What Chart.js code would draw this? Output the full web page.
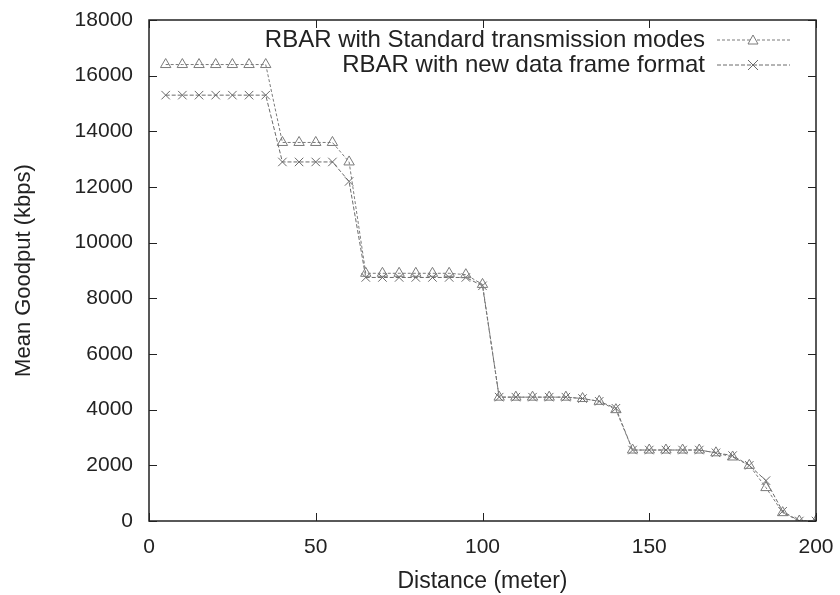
<!DOCTYPE html>
<html>
<head>
<meta charset="utf-8">
<script src="https://cdn.jsdelivr.net/npm/chart.js@4/dist/chart.umd.min.js"></script>
<style>
  html, body { margin: 0; padding: 0; background: #fff }
  #wrap { width: 840px; height: 595px }
</style>
</head>
<body>
<div id="wrap"><canvas id="c" width="840" height="595"></canvas></div>
<script>
const distances = [5, 10, 15, 20, 25, 30, 35, 40, 45, 50, 55, 60, 65, 70, 75, 80, 85, 90, 95, 100,
  105, 110, 115, 120, 125, 130, 135, 140, 145, 150, 155, 160, 165, 170, 175, 180, 185, 190, 195, 200]
const standardModes = [16400, 16400, 16400, 16400, 16400, 16400, 16400, 13600, 13600, 13600, 13600, 12900,
  8900, 8900, 8900, 8900, 8900, 8900, 8850, 8500,
  4450, 4450, 4450, 4450, 4450, 4400, 4300, 4000,
  2550, 2550, 2550, 2550, 2550, 2450, 2300, 2000, 1200, 300, 0, 0]
const newFrameFormat = [15300, 15300, 15300, 15300, 15300, 15300, 15300, 12900, 12900, 12900, 12900, 12200,
  8750, 8750, 8750, 8750, 8750, 8750, 8750, 8450,
  4450, 4450, 4450, 4450, 4450, 4400, 4300, 4050,
  2550, 2550, 2550, 2550, 2550, 2450, 2350, 2000, 1450, 350, 0, 0]
const seriesNames = ['RBAR with Standard transmission modes', 'RBAR with new data frame format']
const xTicks = [0, 50, 100, 150, 200]
const yTicks = [0, 2000, 4000, 6000, 8000, 10000, 12000, 14000, 16000, 18000]

const FONT = 'Liberation Sans, Arial, sans-serif'
const TEXT = '#222'
const styles = [
  { color: '#7a7a7a', point: 'triangle', dash: [3, 2] },
  { color: '#6a6a6a', point: 'crossRot', dash: [4, 2] },
]

// inward ticks on all four sides + legend inside the frame
const framePlugin = {
  id: 'frame',
  afterDraw(chart) {
    const { ctx, chartArea: a, scales } = chart
    ctx.save()
    ctx.strokeStyle = '#222'
    ctx.lineWidth = 1
    ctx.beginPath()
    xTicks.forEach((v) => {
      const x = Math.round(scales.x.getPixelForValue(v)) + 0.5
      ctx.moveTo(x, a.bottom); ctx.lineTo(x, a.bottom - 8)
      ctx.moveTo(x, a.top); ctx.lineTo(x, a.top + 8)
    })
    yTicks.forEach((v) => {
      const y = Math.round(scales.y.getPixelForValue(v)) + 0.5
      ctx.moveTo(a.left, y); ctx.lineTo(a.left + 8, y)
      ctx.moveTo(a.right, y); ctx.lineTo(a.right - 8, y)
    })
    ctx.stroke()
    ctx.lineWidth = 1.5
    ctx.strokeRect(a.left, a.top, a.right - a.left, a.bottom - a.top)

    // legend
    ctx.font = '24px ' + FONT
    ctx.fillStyle = TEXT
    ctx.textAlign = 'right'
    ctx.textBaseline = 'middle'
    seriesNames.forEach((name, i) => {
      const y = a.top + 20 + i * 25
      const st = styles[i]
      ctx.fillText(name, a.right - 111, y)
      ctx.strokeStyle = st.color
      ctx.lineWidth = 1
      ctx.setLineDash(st.dash)
      ctx.beginPath()
      ctx.moveTo(a.right - 99, y); ctx.lineTo(a.right - 26, y)
      ctx.stroke()
      ctx.setLineDash([])
      const cx = a.right - 63
      ctx.beginPath()
      if (st.point === 'triangle') {
        ctx.moveTo(cx, y - 5); ctx.lineTo(cx + 5, y + 4); ctx.lineTo(cx - 5, y + 4); ctx.closePath()
        ctx.fillStyle = '#fff'; ctx.fill()
      } else {
        ctx.moveTo(cx - 5, y - 5); ctx.lineTo(cx + 5, y + 5)
        ctx.moveTo(cx + 5, y - 5); ctx.lineTo(cx - 5, y + 5)
      }
      ctx.stroke()
      ctx.fillStyle = TEXT
    })
    ctx.restore()
  },
}

const makeSet = (label, values, st) => ({
  label,
  data: distances.map((d, i) => ({ x: d, y: values[i] })),
  borderColor: st.color,
  backgroundColor: '#fff',
  borderWidth: 1,
  borderDash: st.dash,
  pointStyle: st.point,
  pointRadius: 6,
  pointBorderWidth: 1,
  pointBorderColor: st.color,
  pointBackgroundColor: 'rgba(255,255,255,0)',
  tension: 0,
})

new Chart(document.getElementById('c'), {
  type: 'line',
  data: {
    datasets: [
      makeSet(seriesNames[0], standardModes, styles[0]),
      makeSet(seriesNames[1], newFrameFormat, styles[1]),
    ],
  },
  options: {
    responsive: false,
    animation: false,
    layout: { padding: { top: 20, right: 24, left: 0, bottom: 0 } },
    plugins: { legend: { display: false }, tooltip: { enabled: false } },
    scales: {
      x: {
        type: 'linear',
        min: 0,
        max: 200,
        afterBuildTicks: (s) => { s.ticks = xTicks.map((v) => ({ value: v })) },
        afterFit: (s) => { s.height = 74; s.paddingLeft = 0; s.paddingRight = 0 },
        grid: { display: false, drawTicks: false },
        border: { display: false },
        ticks: { color: TEXT, font: { family: FONT, size: 21 }, padding: 14, maxRotation: 0, callback: (v) => String(v) },
        title: { display: true, text: 'Distance (meter)', color: TEXT, font: { family: FONT, size: 23 }, padding: { top: 0, bottom: 0 } },
      },
      y: {
        min: 0,
        max: 18000,
        afterBuildTicks: (s) => { s.ticks = yTicks.map((v) => ({ value: v })) },
        afterFit: (s) => { s.width = 149; s.paddingTop = 0; s.paddingBottom = 0 },
        grid: { display: false, drawTicks: false },
        border: { display: false },
        ticks: { color: TEXT, font: { family: FONT, size: 21 }, padding: 16, callback: (v) => String(v) },
        title: { display: true, text: 'Mean Goodput (kbps)', color: TEXT, font: { family: FONT, size: 22 }, padding: { top: 11, bottom: 8 } },
      },
    },
  },
  plugins: [framePlugin],
})
</script>
</body>
</html>
